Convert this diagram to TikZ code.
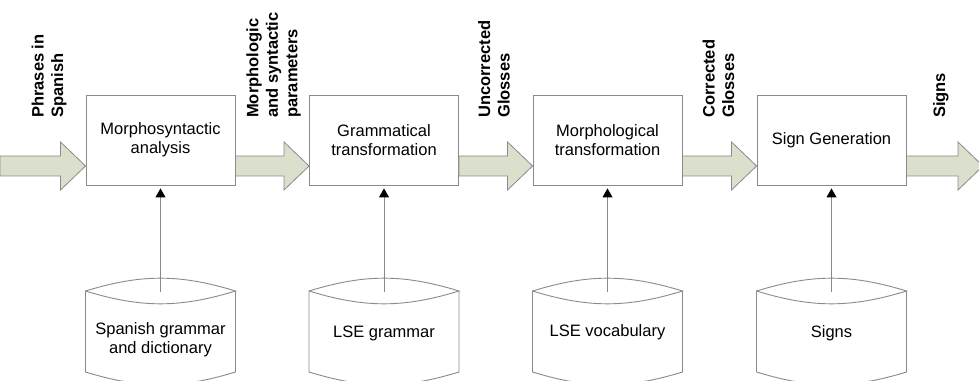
\documentclass[tikz,border=0pt]{standalone}
\usepackage{fontspec}
\setmainfont{Liberation Sans}
\usepackage{tikz}
\usetikzlibrary{arrows.meta}
\usetikzlibrary{calc}
\definecolor{sage}{HTML}{DAE0CB}
\definecolor{edgegray}{HTML}{8A8A8A}

% thick hollow arrow between two points at box height, drawn 26pt lower
\newcommand{\fatarrow}[2]{%
  \filldraw[fat] ($(#1)+(0,-16)$) -- ($(#2)+(-25,-16)$) -- ($(#2)+(-25,-2)$) -- ($(#2)+(0,-26)$)
    -- ($(#2)+(-25,-50)$) -- ($(#2)+(-25,-36)$) -- ($(#1)+(0,-36)$) -- cycle;}
% cylinder outline below a box
\newcommand{\database}[2]{%
  \draw[dbline] (#2-75,89) to[bend left=17] (#2+75,89) to[bend left=17] (#2-75,89)
    -- (#2-75,8) to[bend right=17] (#2+75,8) -- (#2+75,89);
  \coordinate (#1top) at (#2,88);}

\begin{document}
\begin{tikzpicture}[x=1pt,y=1pt,
    stage/.style={draw=edgegray,line width=0.9pt,fill=white,minimum width=149pt,minimum height=90pt,
      align=center,inner sep=2pt,font=\fontsize{16.5}{19}\selectfont},
    dbline/.style={draw=edgegray,line width=0.9pt},
    dbtext/.style={align=center,inner sep=1pt,font=\fontsize{16.5}{19}\selectfont},
    fat/.style={fill=sage,draw=edgegray,line width=0.8pt},
    flowlabel/.style={rotate=90,anchor=west,align=left,inner sep=0pt,font=\fontsize{16.5}{19.5}\selectfont\bfseries},
    feed/.style={draw=edgegray,line width=0.9pt,shorten >=3pt,-{Triangle[length=9pt,width=10pt,color=black]}}]
  \useasboundingbox (0,0) rectangle (979,380);

  \coordinate (in) at (0,240);
  \coordinate (out) at (983,240);

  \node[stage] (m1) at (160.5,240) {Morphosyntactic\\analysis};
  \node[stage] (m2) at (384,240) {Grammatical\\transformation};
  \node[stage] (m3) at (607.5,240) {Morphological\\transformation};
  \node[stage] (m4) at (831.5,240) {Sign Generation};

  \fatarrow{in}{m1.west}
  \fatarrow{m1.east}{m2.west}
  \fatarrow{m2.east}{m3.west}
  \fatarrow{m3.east}{m4.west}
  \fatarrow{m4.east}{out}

  \node[flowlabel] (l1) at (49,262) {Phrases in\\Spanish};
  \node[flowlabel] (l2) at (273.5,262) {Morphologic\\and syntactic\\parameters};
  \node[flowlabel] (l3) at (494,262) {Uncorrected\\Glosses};
  \node[flowlabel] (l4) at (718.5,262) {Corrected\\Glosses};
  \node[flowlabel] (l5) at (941,262) {Signs};

  \database{d1}{160.5}
  \database{d2}{384}
  \database{d3}{607.5}
  \database{d4}{831.5}
  \node[dbtext] (t1) at (160.5,40) {Spanish grammar\\and dictionary};
  \node[dbtext] (t2) at (384,47) {LSE grammar};
  \node[dbtext] (t3) at (607.5,48) {LSE vocabulary};
  \node[dbtext] (t4) at (831.5,47) {Signs};

  \draw[feed] (d1top) -- (m1);
  \draw[feed] (d2top) -- (m2);
  \draw[feed] (d3top) -- (m3);
  \draw[feed] (d4top) -- (m4);
\end{tikzpicture}
\end{document}
